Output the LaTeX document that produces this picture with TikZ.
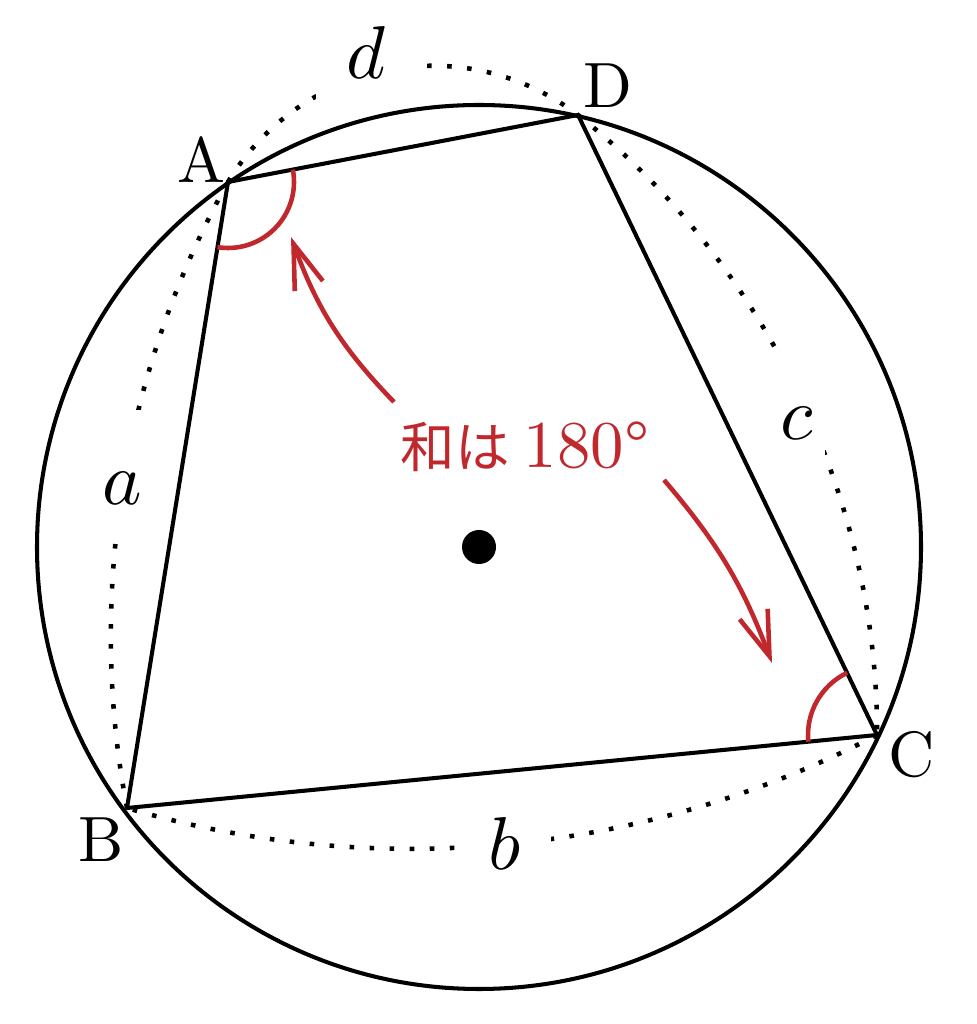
\documentclass[tikz,border=0pt]{standalone}
\usepackage{fontspec}
\usepackage{graphicx}
\newfontfamily\cjk{Noto Sans CJK JP}
\usetikzlibrary{arrows.meta}
\definecolor{myred}{RGB}{192,40,45}
\begin{document}
\begin{tikzpicture}[x=0.01cm,y=0.01cm,
  edge/.style={line width=1.15pt, line join=round},
  dotarc/.style={line width=1.3pt, dash pattern=on 1.3pt off 4.4pt},
  vlabel/.style={inner sep=0pt},
  slabel/.style={fill=white, anchor=base, inner ysep=0pt},
  anglearc/.style={myred, line width=1.3pt},
  redarrow/.style={myred, line width=1.3pt, -{Straight Barb[length=12.8pt, width=8.5pt]}},
]
\useasboundingbox (0,0) rectangle (977,1024);
\coordinate (O) at (479,477);
\coordinate (A) at (228,842);
\coordinate (D) at (578,909);
\coordinate (C) at (877,289);
\coordinate (B) at (127,216);
% dotted arcs
\draw[dotarc] (A) to[bend left=48, looseness=1.03] (D);
\draw[dotarc] (D) to[bend left=26, looseness=0.88] (C);
\draw[dotarc] (C) to[bend left=22, looseness=0.88] (B);
\draw[dotarc] (B) to[bend left=20, looseness=0.87] (A);
% arc labels (white background makes the gap)
\node[slabel, text height=27pt, text depth=8.5pt, inner xsep=2.3pt] (la) at (122,519) {\scalebox{2.13}{$a$}};
\node[slabel, text depth=5.7pt, inner xsep=8.8pt, inner ysep=1pt] (ld) at (366,945) {\scalebox{2.13}{$d$}};
\node[slabel, text height=25.6pt, text depth=5.7pt, inner xsep=3.4pt] (lc) at (797,584) {\scalebox{2.13}{$c$}};
\node[slabel, inner xsep=8.5pt] (lb) at (505,154) {\scalebox{2.13}{$b$}};
% circle and quadrilateral
\draw[edge] (O) circle (442);
\draw[edge] (A) -- (D) -- (C) -- (B) -- cycle;
\fill (O) circle (17);
% angle marks
\draw[anglearc] (A) ++(10.8:66) arc[start angle=10.8, end angle=-99.2, radius=66];
\draw[anglearc] (C) ++(115.7:69) arc[start angle=115.7, end angle=185.6, radius=69];
% vertex labels
\node[vlabel] (nA) at (201,864) {\scalebox{1.82}{A}};
\node[vlabel] (nD) at (608,938) {\scalebox{1.82}{D}};
\node[vlabel] (nC) at (912,269) {\scalebox{1.82}{C}};
\node[vlabel] (nB) at (101,184) {\scalebox{1.82}{B}};
% sum label and arrows
\node[anchor=base west, inner sep=0pt, text=myred] (sum) at (400,556)
  {{\cjk\fontsize{15.5}{18}\selectfont 和は}\hspace{4pt}\scalebox{1.9}{180°}};
\coordinate (s1) at (394,622);
\coordinate (t1) at (291,787);
\coordinate (s2) at (664,544);
\coordinate (t2) at (772,361);
\draw[redarrow] (s1) to[bend left=12] (t1);
\draw[redarrow] (s2) to[bend left=10] (t2);
\end{tikzpicture}
\end{document}
